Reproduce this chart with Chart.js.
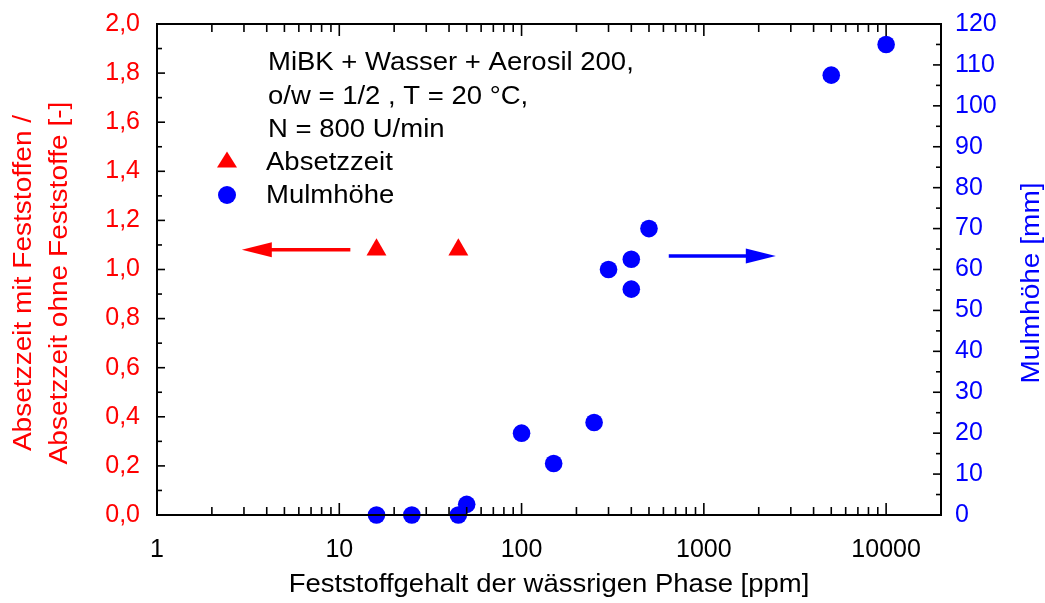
<!DOCTYPE html>
<html lang="de">
<head>
    <meta charset="UTF-8">
    <title>Absetzzeit und Mulmhöhe</title>
    <script src="https://cdn.jsdelivr.net/npm/chart.js"></script>
    <style>
        body { margin: 0; background: #fff; }
    </style>
</head>
<body>
    <canvas id="chart" width="1045" height="603"></canvas>
    <script>
        // Absetzzeit (linke Achse)
        const absetzKonz = [16, 45];
        const absetzZeit = [1.08, 1.08];
        // Mulmhöhe (rechte Achse, mm)
        const mulmKonz = [16, 25, 45, 50, 100, 150, 250, 300, 400, 400, 500, 5000, 10000];
        const mulmHoehe = [0, 0, 0, 2.6, 20, 12.6, 22.6, 60, 62.5, 55.2, 70, 107.5, 115];
        const xTicks = [1, 10, 100, 1000, 10000];
        const infoText = ['MiBK + Wasser + Aerosil 200,', 'o/w = 1/2 , T = 20 °C,', 'N = 800 U/min'];

        const FONT = '"Liberation Sans", Arial, sans-serif';
        const RED = '#ff0000', BLUE = '#0000ff';

        function stretchText(ctx, txt, x, y, size, color, align) {
            ctx.save();
            ctx.font = size + 'px ' + FONT;
            ctx.fillStyle = color;
            ctx.textBaseline = 'alphabetic';
            ctx.translate(x, y);
            ctx.scale(1.1, 1);
            ctx.textAlign = align || 'left';
            ctx.fillText(txt, 0, 0);
            ctx.restore();
        }

        function arrow(ctx, x1, x2, y, color) {
            const dir = x2 > x1 ? 1 : -1;
            ctx.save();
            ctx.strokeStyle = color; ctx.fillStyle = color; ctx.lineWidth = 3.5;
            ctx.beginPath();
            ctx.moveTo(x1, y); ctx.lineTo(x2 - dir * 25, y);
            ctx.stroke();
            ctx.beginPath();
            ctx.moveTo(x2, y);
            ctx.lineTo(x2 - dir * 30, y - 7.5);
            ctx.lineTo(x2 - dir * 30, y + 7.5);
            ctx.closePath();
            ctx.fill();
            ctx.restore();
        }

        const frame = {
            id: 'frame',
            afterDraw(chart) {
                const { ctx, chartArea: a, scales } = chart;
                const x = scales.x, yl = scales.y, yr = scales.y2;
                ctx.save();
                ctx.strokeStyle = '#000';
                ctx.lineWidth = 1.6;
                const seg = (x1, y1, x2, y2) => { ctx.beginPath(); ctx.moveTo(x1, y1); ctx.lineTo(x2, y2); ctx.stroke(); };
                // log ticks, unten und oben
                for (let d = 1; d <= 10000; d *= 10) {
                    for (let k = 1; k <= 9; k++) {
                        const v = d * k;
                        if (v >= 20000) break;
                        const px = x.getPixelForValue(v);
                        const len = k === 1 ? 12 : 8;
                        seg(px, a.bottom, px, a.bottom - len);
                        seg(px, a.top, px, a.top + len);
                    }
                }
                // linke Achse
                for (let i = 0; i <= 20; i++) {
                    const py = yl.getPixelForValue(i / 10);
                    seg(a.left, py, a.left + (i % 2 === 0 ? 8 : 5), py);
                }
                // rechte Achse
                for (let i = 0; i <= 24; i++) {
                    const py = yr.getPixelForValue(i * 5);
                    seg(a.right, py, a.right - (i % 2 === 0 ? 8 : 5), py);
                }
                ctx.lineWidth = 2;
                ctx.strokeRect(a.left, a.top, a.right - a.left, a.bottom - a.top);
                ctx.restore();

                // Pfeile
                arrow(ctx, x.getPixelForValue(11.5), x.getPixelForValue(2.92), yl.getPixelForValue(1.08), RED);
                arrow(ctx, x.getPixelForValue(642), x.getPixelForValue(2483), yr.getPixelForValue(63.3), BLUE);

                // Beschriftung im Diagramm
                infoText.forEach((t, i) => stretchText(ctx, t, 268, 70 + i * 33.7, 25, '#000'));
                stretchText(ctx, 'Absetzzeit', 266, 170, 25, '#000');
                stretchText(ctx, 'Mulmhöhe', 266, 203, 25, '#000');
                ctx.save();
                ctx.fillStyle = RED;
                ctx.beginPath();
                ctx.moveTo(227, 151.5); ctx.lineTo(237, 167.5); ctx.lineTo(217, 167.5);
                ctx.closePath(); ctx.fill();
                ctx.fillStyle = BLUE;
                ctx.beginPath(); ctx.arc(227, 195, 9, 0, Math.PI * 2); ctx.fill();
                ctx.restore();

                // Achsentitel
                stretchText(ctx, 'Feststoffgehalt der wässrigen Phase [ppm]', (a.left + a.right) / 2, 592, 25, '#000', 'center');
                ctx.save();
                ctx.translate(0, 283);
                ctx.rotate(-Math.PI / 2);
                stretchText(ctx, 'Absetzzeit mit Feststoffen /', 0, 31, 25.5, RED, 'center');
                stretchText(ctx, 'Absetzzeit ohne Feststoffe [-]', 0, 67, 25.5, RED, 'center');
                ctx.restore();
                ctx.save();
                ctx.translate(1030, 283);
                ctx.rotate(-Math.PI / 2);
                stretchText(ctx, 'Mulmhöhe [mm]', 0, 9, 25.5, BLUE, 'center');
                ctx.restore();
            }
        };

        const tickFont = { family: FONT, size: 25 };

        new Chart(document.getElementById('chart'), {
            type: 'scatter',
            data: {
                datasets: [
                    {
                        label: 'Absetzzeit',
                        data: absetzKonz.map((v, i) => ({ x: v, y: absetzZeit[i] })),
                        yAxisID: 'y',
                        pointStyle: 'triangle',
                        pointRadius: 11.5,
                        backgroundColor: RED,
                        borderWidth: 0,
                        clip: false
                    },
                    {
                        label: 'Mulmhöhe',
                        data: mulmKonz.map((v, i) => ({ x: v, y: mulmHoehe[i] })),
                        yAxisID: 'y2',
                        pointStyle: 'circle',
                        pointRadius: 8.8,
                        backgroundColor: BLUE,
                        borderWidth: 0,
                        clip: false
                    }
                ]
            },
            options: {
                responsive: false,
                animation: false,
                layout: { padding: { top: 24, left: 0, right: 0, bottom: 0 } },
                plugins: { legend: { display: false }, tooltip: { enabled: false } },
                scales: {
                    x: {
                        type: 'logarithmic',
                        min: 1,
                        max: 20000,
                        afterBuildTicks: s => { s.ticks = xTicks.map(v => ({ value: v })); },
                        afterFit: s => { s.height = 88; },
                        grid: { display: false },
                        border: { display: false },
                        ticks: { font: tickFont, color: '#000', padding: 12, maxRotation: 0, autoSkip: false,
                                 callback: v => String(v) }
                    },
                    y: {
                        position: 'left',
                        min: 0,
                        max: 2,
                        afterFit: s => { s.width = 157; },
                        grid: { display: false },
                        border: { display: false },
                        ticks: { font: tickFont, color: RED, padding: 9, stepSize: 0.2,
                                 callback: v => v.toFixed(1).replace('.', ',') }
                    },
                    y2: {
                        position: 'right',
                        min: 0,
                        max: 120,
                        afterFit: s => { s.width = 104; },
                        grid: { display: false },
                        border: { display: false },
                        ticks: { font: tickFont, color: BLUE, padding: 6, stepSize: 10 }
                    }
                }
            },
            plugins: [frame]
        });
    </script>
</body>
</html>
